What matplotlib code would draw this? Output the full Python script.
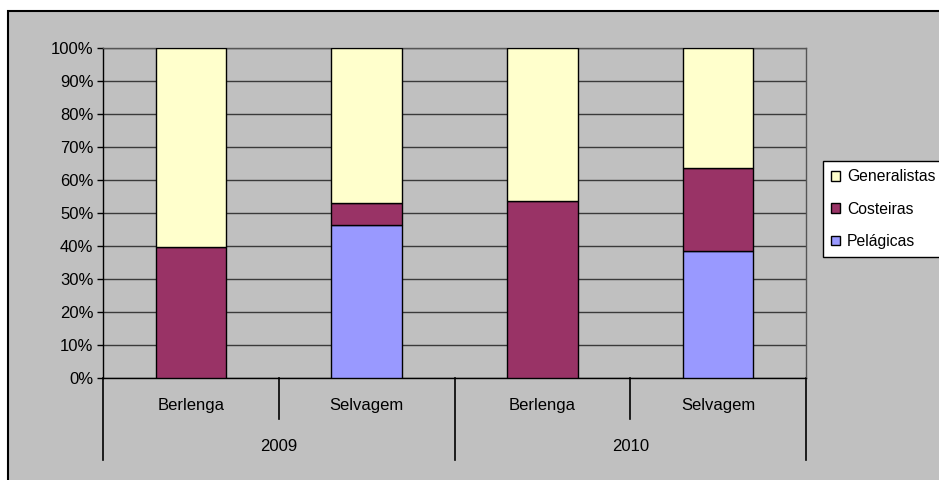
import matplotlib.pyplot as plt
import matplotlib.patches as patches
import matplotlib.transforms as transforms
import numpy as np

plt.rcParams['font.family'] = ['Liberation Sans', 'DejaVu Sans']

# dados (% por categoria)
locais = ['Berlenga', 'Selvagem', 'Berlenga', 'Selvagem']
anos = ['2009', '2010']
pelagicas = [0, 46.3, 0, 38.5]
costeiras = [39.7, 6.7, 53.6, 25.0]
generalistas = [60.3, 47.0, 46.4, 36.5]

cores = {'Generalistas': '#FFFFCC', 'Costeiras': '#993366', 'Pelágicas': '#9999FF'}
cinza = '#C0C0C0'
fs = 12

fig = plt.figure(figsize=(9.39, 4.80), dpi=100)
fig.patch.set_facecolor('white')
# moldura do grafico
moldura = patches.Rectangle((8 / 939, -0.1), 2, (480 - 11) / 480 + 0.1,
                            transform=fig.transFigure, facecolor=cinza,
                            edgecolor='black', lw=1.5, zorder=-10)
fig.patches.append(moldura)

ax = fig.add_axes([103 / 939, (480 - 378) / 480, 703 / 939, 330 / 480])
ax.set_facecolor(cinza)

x = np.arange(len(locais))
w = 0.4
b1 = ax.bar(x, pelagicas, w, color=cores['Pelágicas'], edgecolor='black', lw=1, zorder=3, label='Pelágicas')
b2 = ax.bar(x, costeiras, w, bottom=pelagicas, color=cores['Costeiras'], edgecolor='black', lw=1, zorder=3, label='Costeiras')
base = np.array(pelagicas) + np.array(costeiras)
b3 = ax.bar(x, generalistas, w, bottom=base, color=cores['Generalistas'], edgecolor='black', lw=1, zorder=3, label='Generalistas')

ax.set_xlim(-0.5, len(locais) - 0.5)
ax.set_ylim(0, 100)
ax.set_yticks(np.arange(0, 101, 10))
ax.set_yticklabels([f'{v}%' for v in range(0, 101, 10)], fontsize=fs)
ax.yaxis.grid(True, color='#3a3a3a', lw=1, zorder=0)
ax.tick_params(axis='y', length=4, width=1, pad=3, color='black')
ax.set_xticks([])

for s in ['top', 'right']:
    ax.spines[s].set_color('#555555')
ax.spines['left'].set_color('black')
ax.spines['bottom'].set_color('black')
for s in ax.spines.values():
    s.set_linewidth(1)

# eixo de categorias em dois niveis
trans = transforms.blended_transform_factory(ax.transData, ax.transAxes)
for i in range(len(locais) + 1):
    pos = i - 0.5
    fim = -0.248 if i % 2 == 0 else -0.124
    ax.plot([pos, pos], [0, fim], color='black', lw=1.2, transform=trans, clip_on=False)
for i, nome in enumerate(locais):
    ax.text(i, -0.082, nome, transform=trans, ha='center', va='center', fontsize=fs)
for j, ano in enumerate(anos):
    ax.text(2 * j + 0.5, -0.208, ano, transform=trans, ha='center', va='center', fontsize=fs)

leg = fig.legend([b3, b2, b1], ['Generalistas', 'Costeiras', 'Pelágicas'],
                 loc='upper left', bbox_to_anchor=(822.7 / 939, 1 - 160.7 / 480),
                 fontsize=11.3, frameon=True, fancybox=False, edgecolor='black',
                 framealpha=1, handlelength=0.55, handleheight=0.55, handletextpad=0.45,
                 labelspacing=1.1, borderpad=0.55, borderaxespad=0)
leg.get_frame().set_facecolor('white')
leg.get_frame().set_linewidth(1)

fig.savefig('out.png', dpi=100, facecolor=fig.get_facecolor())
